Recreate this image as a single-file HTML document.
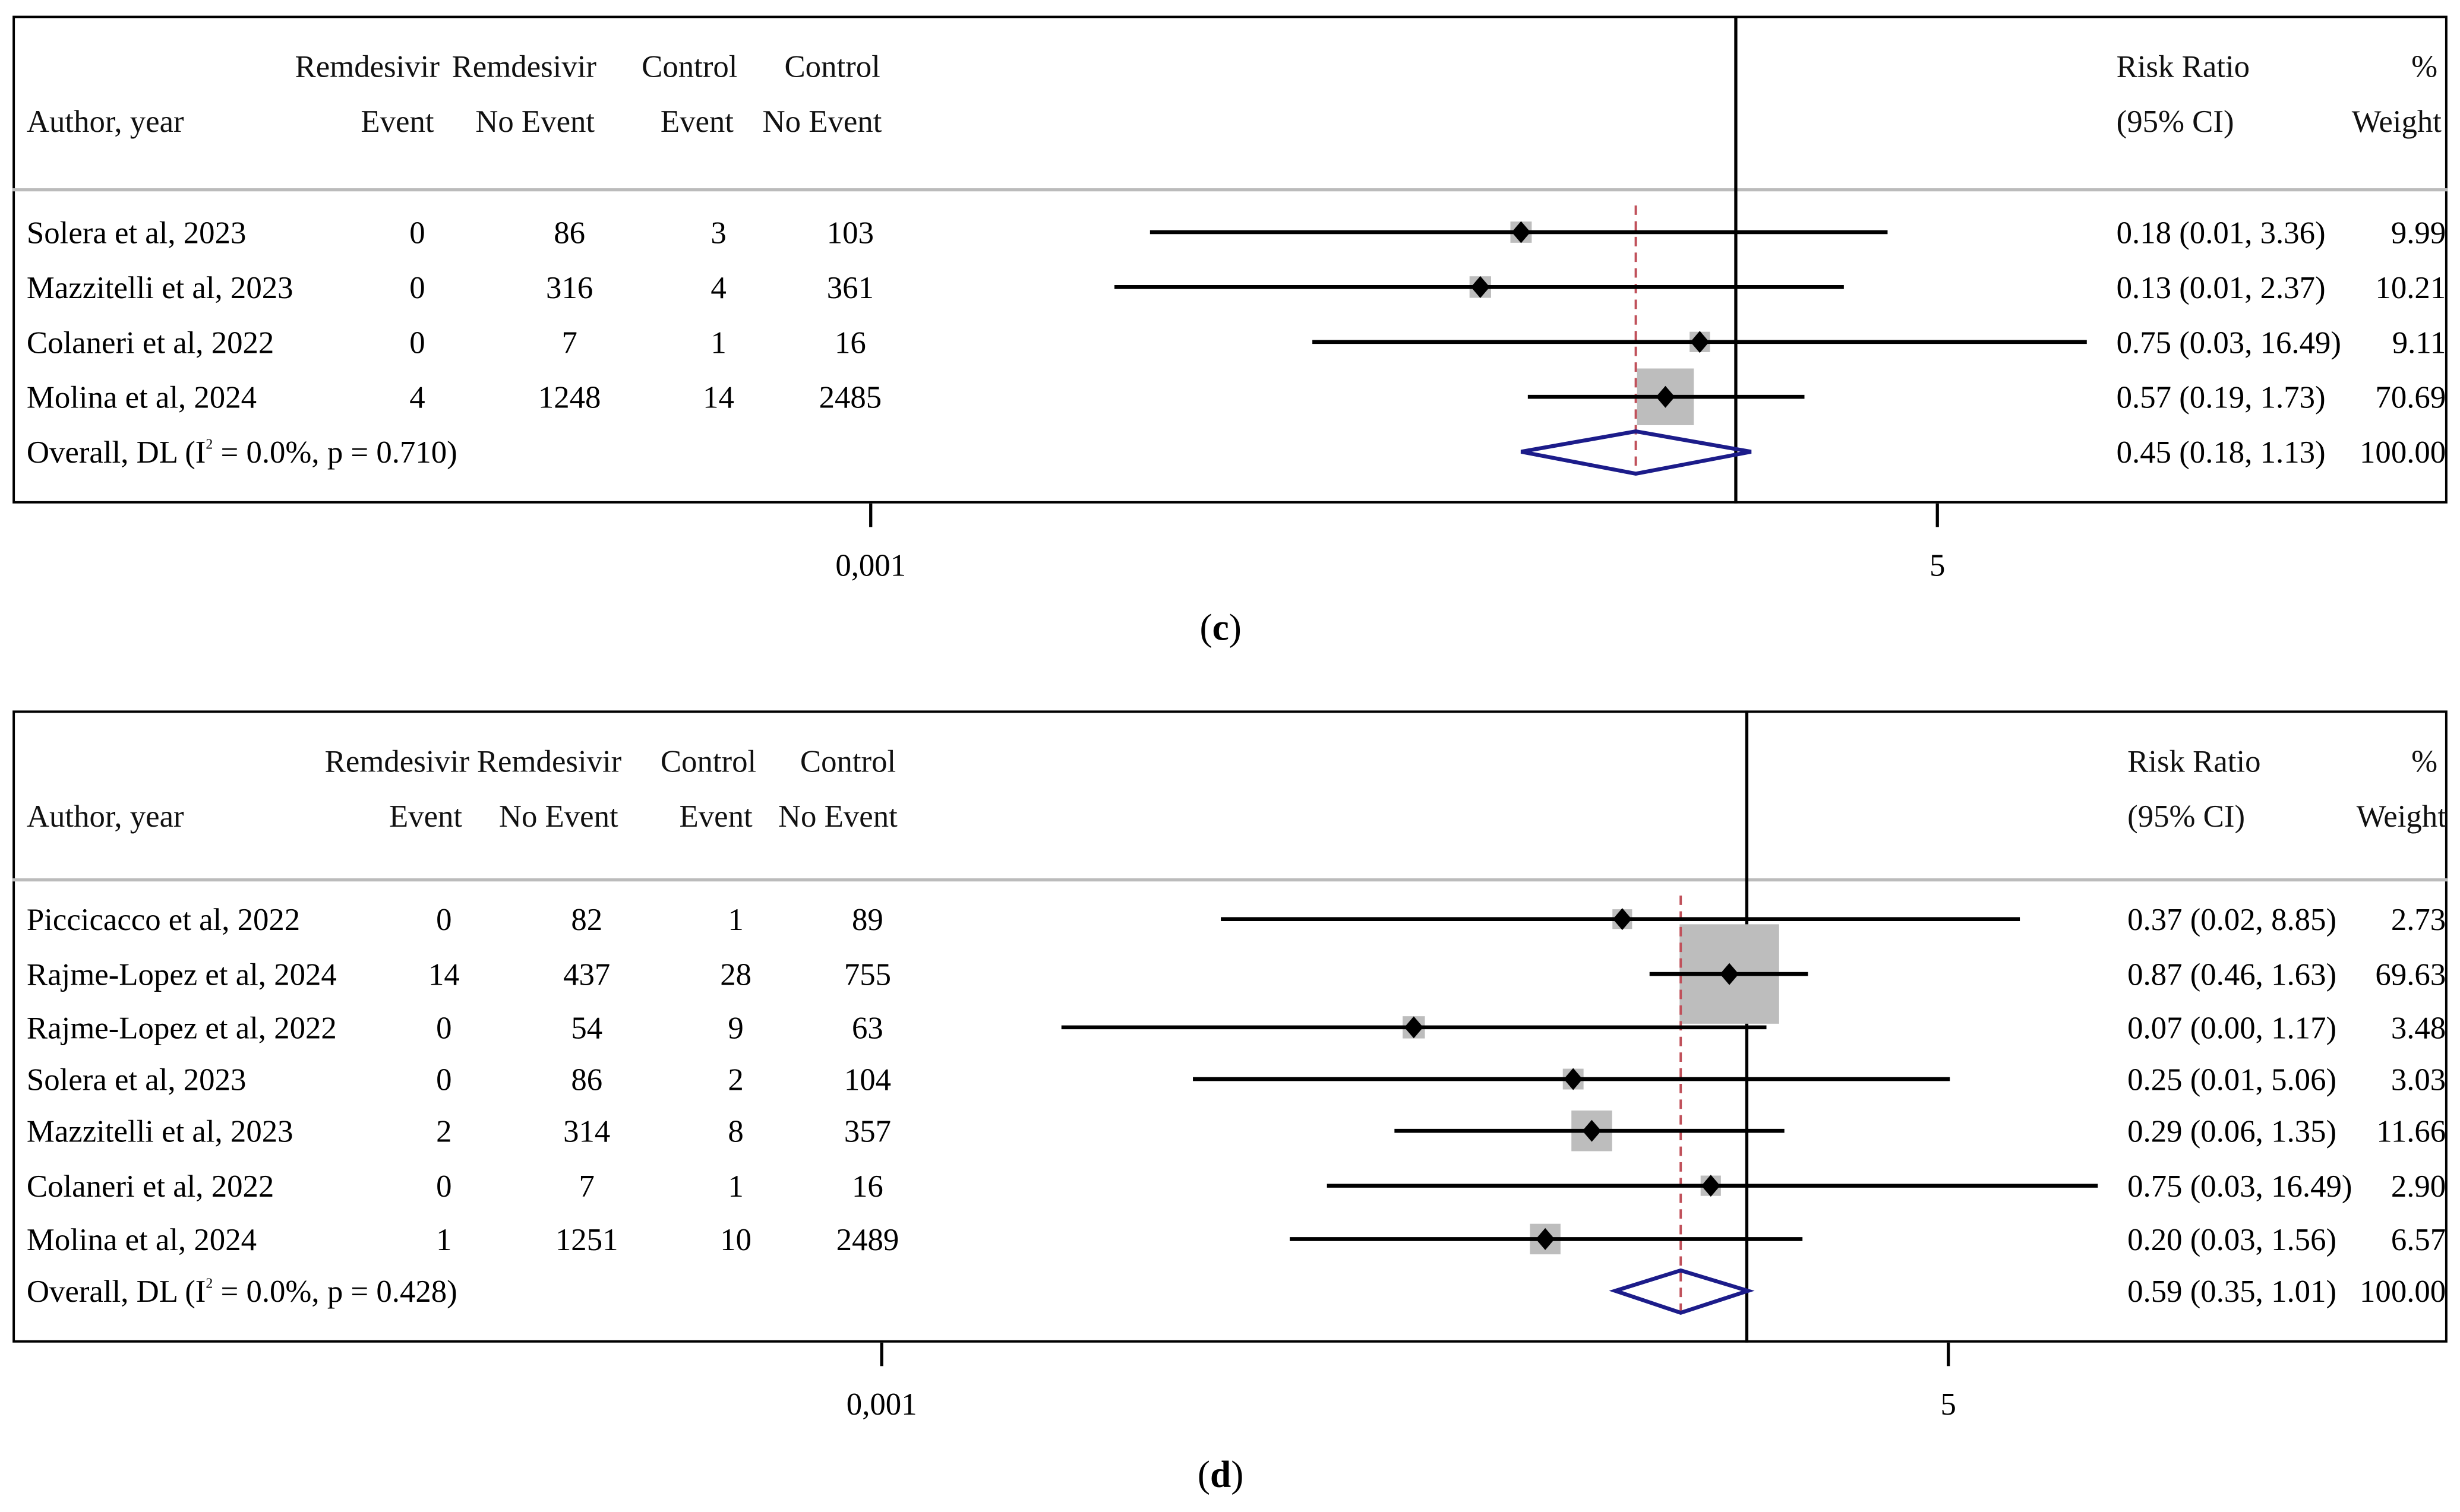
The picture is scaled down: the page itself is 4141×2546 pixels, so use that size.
<!DOCTYPE html>
<html><head><meta charset="utf-8"><style>
html,body{margin:0;padding:0;background:#fff;}
svg{display:block;font-family:"Liberation Serif",serif;}
</style></head><body>
<svg id="chart" width="4141" height="2546" viewBox="0 0 1568 964" xmlns="http://www.w3.org/2000/svg">
<defs>
<clipPath id="clipC"><rect x="8" y="10" width="1552" height="311"/></clipPath>
<clipPath id="clipD"><rect x="8" y="453" width="1552" height="403"/></clipPath>
</defs>
<g id="panelC" clip-path="url(#clipC)"></g>
<g id="panelD" clip-path="url(#clipD)"></g>
<g id="outer"></g>
</svg>
<script>
// Panel (c) data
const cStudies = ["Solera et al, 2023","Mazzitelli et al, 2023","Colaneri et al, 2022","Molina et al, 2024"];
const cRemEvent = ["0","0","0","4"];
const cRemNoEvent = ["86","316","7","1248"];
const cCtrlEvent = ["3","4","1","14"];
const cCtrlNoEvent = ["103","361","16","2485"];
const cRR = [0.18,0.13,0.75,0.57];
const cLow = [0.0093,0.007,0.034,0.19];
const cHigh = [3.36,2.37,16.49,1.73];
const cWeight = [9.99,10.21,9.11,70.69];
const cCI = ["0.18 (0.01, 3.36)","0.13 (0.01, 2.37)","0.75 (0.03, 16.49)","0.57 (0.19, 1.73)"];
const cOverall = [0.45,0.18,1.13];
const cOverallLabel = "0.45 (0.18, 1.13)";
const cOverallText = ["0.0%","0.710"];
// Panel (d) data
const dStudies = ["Piccicacco et al, 2022","Rajme-Lopez et al, 2024","Rajme-Lopez et al, 2022","Solera et al, 2023","Mazzitelli et al, 2023","Colaneri et al, 2022","Molina et al, 2024"];
const dRemEvent = ["0","14","0","0","2","0","1"];
const dRemNoEvent = ["82","437","54","86","314","7","1251"];
const dCtrlEvent = ["1","28","9","2","8","1","10"];
const dCtrlNoEvent = ["89","755","63","104","357","16","2489"];
const dRR = [0.37,0.87,0.07,0.25,0.29,0.75,0.20];
const dLow = [0.015,0.46,0.0042,0.012,0.06,0.035,0.026];
const dHigh = [8.85,1.63,1.17,5.06,1.35,16.49,1.56];
const dWeight = [2.73,69.63,3.48,3.03,11.66,2.90,6.57];
const dCI = ["0.37 (0.02, 8.85)","0.87 (0.46, 1.63)","0.07 (0.00, 1.17)","0.25 (0.01, 5.06)","0.29 (0.06, 1.35)","0.75 (0.03, 16.49)","0.20 (0.03, 1.56)"];
const dOverall = [0.59,0.35,1.01];
const dOverallLabel = "0.59 (0.35, 1.01)";
const dOverallText = ["0.0%","0.428"];
const tickValues = [0.001,5];
const tickLabels = ["0,001","5"];

const NS="http://www.w3.org/2000/svg";
function mk(parent,tag,attrs,text){const e=document.createElementNS(NS,tag);for(const k in attrs)e.setAttribute(k,attrs[k]);if(text!==undefined)e.textContent=text;parent.appendChild(e);return e;}

function drawPanel(g,o,P){
  const x=v=>P.x0+(Math.log10(v)+3)*P.dec;
  const FS=20;
  let b=mk(g,'rect',{x:8,y:P.top,width:1552,height:P.bot-P.top,fill:'none',stroke:'#000','stroke-width':3});
  
  
  let hl=mk(g,'line',{x1:8,x2:1560,y1:P.hline,y2:P.hline,stroke:'#bbb','stroke-width':2});
  
  
  P.headers.forEach(h=>{
    let t=mk(g,'text',{x:h[0],y:h[1],'font-size':FS,fill:'#111'},h[2]);
    
    
  });
  let nl=mk(g,'line',{x1:x(1),x2:x(1),y1:P.top,y2:P.bot,stroke:'#000','stroke-width':2});
  
  
  const n=o.studies.length;
  for(let i=0;i<n;i++){
    const y=P.rows[i];
    const s=P.k*Math.sqrt(o.weight[i]);
    let sq=mk(g,'rect',{x:x(o.rr[i])-s/2,y:y-s/2,width:s,height:s,fill:'#bdbdbd'});
    
    
  }
  let od=mk(g,'line',{x1:x(o.overall[0]),x2:x(o.overall[0]),y1:P.hline+10,y2:P.rows[n]+15,stroke:'#c0505a','stroke-width':1.5,'stroke-dasharray':'6,4'});
  
  
  for(let i=0;i<n;i++){
    const y=P.rows[i];
    let ci=mk(g,'line',{x1:x(o.low[i]),x2:x(o.high[i]),y1:y,y2:y,stroke:'#000','stroke-width':2.5});
    
    
    const cx=x(o.rr[i]);
    let pt=mk(g,'polygon',{points:`${cx-6},${y} ${cx},${y-7} ${cx+6},${y} ${cx},${y+7}`,fill:'#000'});
    
    
    const ty=y+7;
    let a=mk(g,'text',{x:17,y:ty,'font-size':FS},o.studies[i]);
    
    
    [o.re,o.rne,o.ce,o.cne].forEach((arr,j)=>{
      let t=mk(g,'text',{x:P.cols[j],y:ty,'font-size':FS,'text-anchor':'middle'},arr[i]);
      
      
    });
    let c=mk(g,'text',{x:P.rx,y:ty,'font-size':FS},o.ci[i]);
    
    
    let w=mk(g,'text',{x:1559,y:ty,'font-size':FS,'text-anchor':'end'},o.weight[i].toFixed(2));
    
    
  }
  const yo=P.rows[n];
  const xl=x(o.overall[1]),xh=x(o.overall[2]),xc=x(o.overall[0]);
  let dm=mk(g,'polygon',{points:`${xl},${yo} ${xc},${yo-13} ${xh},${yo} ${xc},${yo+14}`,fill:'none',stroke:'#1c1c8a','stroke-width':2.5});
  
  
  let ot=mk(g,'text',{x:17,y:yo+7,'font-size':FS});
  
  
  ot.innerHTML='Overall, DL (I<tspan dy="-9" font-size="9">2</tspan><tspan dy="9"> = '+o.otext[0]+', p = '+o.otext[1]+')</tspan>';
  let oc=mk(g,'text',{x:P.rx,y:yo+7,'font-size':FS},o.olabel);
  
  
  let ow=mk(g,'text',{x:1559,y:yo+7,'font-size':FS,'text-anchor':'end'},'100.00');
  
  
  const out=document.getElementById('outer');
  tickValues.forEach((v,i)=>{
    let tk=mk(out,'line',{x1:x(v),x2:x(v),y1:P.bot,y2:P.bot+15,stroke:'#000','stroke-width':2});
    
    
    let tl=mk(out,'text',{x:x(v),y:P.bot+46,'font-size':FS,'text-anchor':'middle'},tickLabels[i]);
    
    
  });
  let cap=mk(out,'text',{x:778,y:P.cap,'font-size':24,'text-anchor':'middle'});
  
  
  cap.innerHTML='(<tspan font-weight="bold">'+P.letter+'</tspan>)';
}

drawPanel(document.getElementById('panelC'),
 {studies:cStudies,re:cRemEvent,rne:cRemNoEvent,ce:cCtrlEvent,cne:cCtrlNoEvent,rr:cRR,low:cLow,high:cHigh,weight:cWeight,ci:cCI,overall:cOverall,olabel:cOverallLabel,otext:cOverallText},
 {x0:555,dec:183.8,top:10,bot:321,hline:121,k:4.3,rows:[148,183,218,253,288],cols:[266,363,458,542],rx:1349,cap:408,letter:'c',
  headers:[[188,49,'Remdesivir'],[288,49,'Remdesivir'],[409,49,'Control'],[500,49,'Control'],[1349,49,'Risk Ratio'],[1537,49,'%'],
           [17,84,'Author, year'],[230,84,'Event'],[303,84,'No Event'],[421,84,'Event'],[486,84,'No Event'],[1349,84,'(95% CI)'],[1499,84,'Weight']]});
drawPanel(document.getElementById('panelD'),
 {studies:dStudies,re:dRemEvent,rne:dRemNoEvent,ce:dCtrlEvent,cne:dCtrlNoEvent,rr:dRR,low:dLow,high:dHigh,weight:dWeight,ci:dCI,overall:dOverall,olabel:dOverallLabel,otext:dOverallText},
 {x0:562,dec:183.8,top:453,bot:856,hline:561,k:7.6,rows:[586,621,655,688,721,756,790,823],cols:[283,374,469,553],rx:1356,cap:948,letter:'d',
  headers:[[207,492,'Remdesivir'],[304,492,'Remdesivir'],[421,492,'Control'],[510,492,'Control'],[1356,492,'Risk Ratio'],[1537,492,'%'],
           [17,527,'Author, year'],[248,527,'Event'],[318,527,'No Event'],[433,527,'Event'],[496,527,'No Event'],[1356,527,'(95% CI)'],[1502,527,'Weight']]});
</script>
</body></html>
